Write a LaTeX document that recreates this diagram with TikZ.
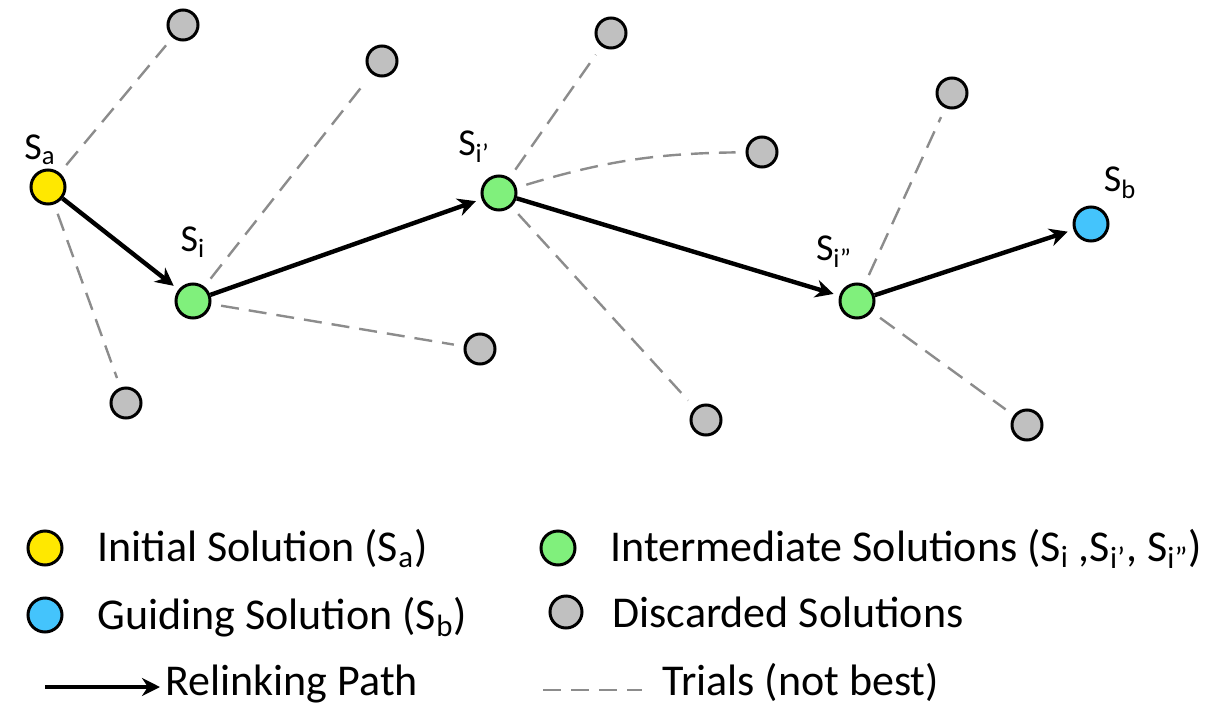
\documentclass[tikz,border=0pt]{standalone}
\usepackage{fontspec}
\setmainfont{Carlito}
\usetikzlibrary{arrows.meta}
\definecolor{solyellow}{HTML}{FFE800}
\definecolor{solgreen}{HTML}{80F07C}
\definecolor{solblue}{HTML}{44C4FC}
\definecolor{solgray}{HTML}{C0C0C0}
\definecolor{trialgray}{HTML}{8C8C8C}

\begin{document}
\begin{tikzpicture}[x=0.5pt,y=-0.5pt,
    sol/.style={circle,draw,line width=1.5pt,minimum size=17pt,inner sep=0pt},
    init/.style={sol,fill=solyellow},
    mid/.style={sol,fill=solgreen},
    guide/.style={sol,fill=solblue},
    drop/.style={sol,fill=solgray,minimum size=15pt},
    lab/.style={font=\fontsize{19}{22}\selectfont},
    leg/.style={font=\fontsize{22}{26}\selectfont,anchor=base west,inner sep=0pt},
    relink/.style={line width=2.2pt,-{Stealth[length=9pt,width=9pt]},shorten >=3pt},
    trial/.style={trialgray,line width=1.2pt,dash pattern=on 9pt off 5pt,shorten <=5pt,shorten >=5pt}]
        \useasboundingbox (0,0) rectangle (1211,707);

        % 设置节点
        \node[init] (a) at (48,187) {};
        \node[mid] (i1) at (193,301) {};
        \node[mid] (i2) at (499,193) {};
        \node[mid] (i3) at (857,301) {};
        \node[guide] (b) at (1091,224) {};

        \node[drop] (d1) at (183,25) {};
        \node[drop] (d2) at (126,403) {};
        \node[drop] (d3) at (382,61) {};
        \node[drop] (d4) at (480,349) {};
        \node[drop] (d5) at (611,33) {};
        \node[drop] (d6) at (762,152) {};
        \node[drop] (d7) at (706,420) {};
        \node[drop] (d8) at (952,93) {};
        \node[drop] (d9) at (1027,425) {};

        % 标签
        \node[lab] (la) at (40,150) {S\textsubscript{a}};
        \node[lab] (li1) at (193,242) {S\textsubscript{i}};
        \node[lab] (li2) at (474,147) {S\textsubscript{i'}};
        \node[lab] (li3) at (834,252) {S\textsubscript{i''}};
        \node[lab] (lb) at (1120,183) {S\textsubscript{b}};

        % 试探（虚线）
        \draw[trial] (a) -- (d1);
        \draw[trial] (a) -- (d2);
        \draw[trial] (i1) -- (d3);
        \draw[trial] (i1) -- (d4);
        \draw[trial] (i2) -- (d5);
        \draw[trial] (i2) to[bend left=8] (d6);
        \draw[trial] (i2) -- (d7);
        \draw[trial] (i3) -- (d8);
        \draw[trial] (i3) -- (d9);

        % 重连路径
        \draw[relink] (a) -- (i1);
        \draw[relink] (i1) -- (i2);
        \draw[relink] (i2) -- (i3);
        \draw[relink] (i3) -- (b);

        % 图例
        \node[init] (ka) at (45,548) {};
        \node[guide] (kb) at (45,615) {};
        \node[mid] (ki) at (558,548) {};
        \node[drop,minimum size=16pt] (kd) at (566,612) {};
        \coordinate (kr1) at (45,687);
        \coordinate (kr2) at (160,687);
        \coordinate (kt1) at (543,690);
        \coordinate (kt2) at (642,690);
        \draw[relink,shorten >=0pt] (kr1) -- (kr2);
        \draw[trial,shorten <=0pt,shorten >=0pt] (kt1) -- (kt2);

        \node[leg] (ta) at (97,561) {Initial Solution (S\textsubscript{a})};
        \node[leg] (tb) at (97,629) {Guiding Solution (S\textsubscript{b})};
        \node[leg] (tr) at (165,695) {Relinking Path};
        \node[leg] (ti) at (610,561) {Intermediate Solutions (S\textsubscript{i} ,S\textsubscript{i'}, S\textsubscript{i''})};
        \node[leg] (td) at (612,627) {Discarded Solutions};
        \node[leg] (tt) at (662,695) {Trials (not best)};
    \end{tikzpicture}
\end{document}
